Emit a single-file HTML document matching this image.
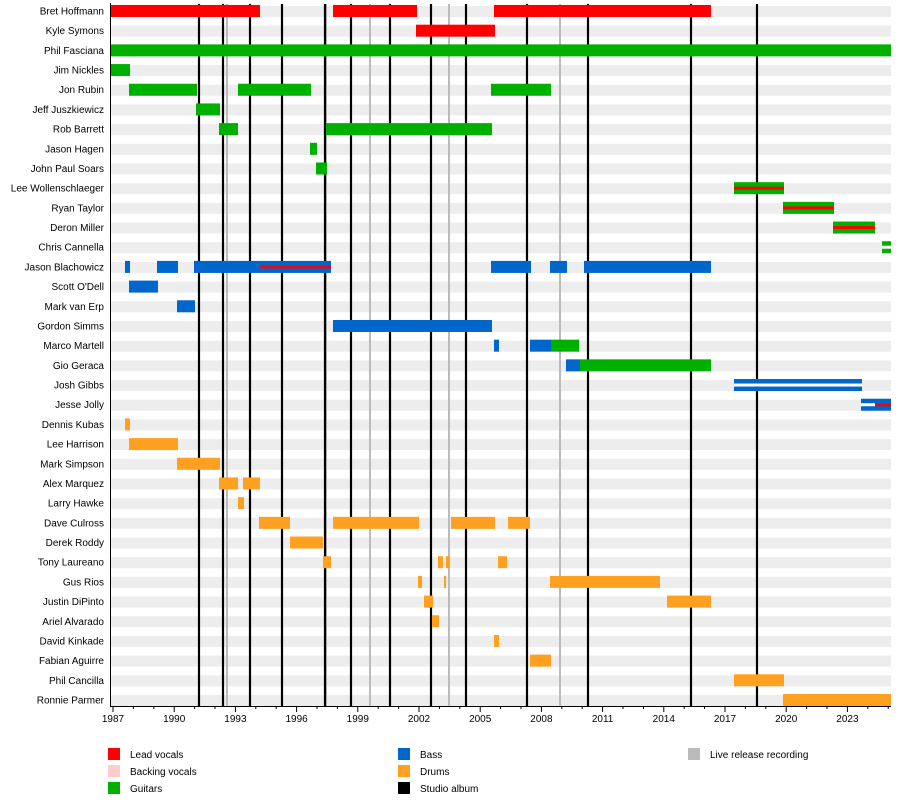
<!DOCTYPE html>
<html><head><meta charset="utf-8"><style>
body{margin:0;background:#fff;}
svg{display:block;font-family:"Liberation Sans",sans-serif;font-size:10px;}
</style></head><body>
<svg width="900" height="805" viewBox="0 0 900 805" xmlns="http://www.w3.org/2000/svg">
<g id="bg" fill="#ededed"></g>
<g id="lines"></g>
<g id="bars"></g>
<g id="names" text-anchor="end" fill="#000"></g>
<line x1="110.5" y1="3" x2="110.5" y2="707" stroke="#000"/>
<line x1="110" y1="706.5" x2="891" y2="706.5" stroke="#000"/>
<g id="ticks"></g>
<g font-size="10">
<rect x="108" y="748" width="12" height="12" fill="#ff0000"/><text x="130" y="758">Lead vocals</text>
<rect x="108" y="765" width="12" height="12" fill="#ffcccc"/><text x="130" y="775">Backing vocals</text>
<rect x="108" y="782" width="12" height="12" fill="#00b000"/><text x="130" y="792">Guitars</text>
<rect x="398" y="748" width="12" height="12" fill="#0066cc"/><text x="420" y="758">Bass</text>
<rect x="398" y="765" width="12" height="12" fill="#ffa020"/><text x="420" y="775">Drums</text>
<rect x="398" y="782" width="12" height="12" fill="#000"/><text x="420" y="792">Studio album</text>
<rect x="688" y="748" width="12" height="12" fill="#bbbbbb"/><text x="710" y="758">Live release recording</text>
</g>
</svg>
<script>
const ns="http://www.w3.org/2000/svg";
function el(p,t,a,txt){const e=document.createElementNS(ns,t);for(const k in a)e.setAttribute(k,a[k]);if(txt)e.textContent=txt;document.getElementById(p).appendChild(e);}
const R="#ff0000",G="#00b000",B="#0066cc",O="#ffa020";
const rows=[
["Bret Hoffmann",[[110,260,R],[333,417,R],[494,711,R]]],
["Kyle Symons",[[416,495,R]]],
["Phil Fasciana",[[110,891,G]]],
["Jim Nickles",[[110,130,G]]],
["Jon Rubin",[[129,197,G],[238,311,G],[491,551,G]]],
["Jeff Juszkiewicz",[[196,220,G]]],
["Rob Barrett",[[219,238,G],[326,492,G]]],
["Jason Hagen",[[310,317,G]]],
["John Paul Soars",[[316,327,G]]],
["Lee Wollenschlaeger",[[734,784,G,R]]],
["Ryan Taylor",[[783,834,G,R]]],
["Deron Miller",[[833,875,G,R]]],
["Chris Cannella",[[882,891,G,"#fff"]]],
["Jason Blachowicz",[[125,130,B],[157,178,B],[194,260,B],[260,331,B,R],[491,531,B],[550,567,B],[584,711,B]]],
["Scott O'Dell",[[129,158,B]]],
["Mark van Erp",[[177,195,B]]],
["Gordon Simms",[[333,492,B]]],
["Marco Martell",[[494,499,B],[530,551,B],[551,579,G]]],
["Gio Geraca",[[566,580,B],[580,711,G]]],
["Josh Gibbs",[[734,862,B,"#fff"]]],
["Jesse Jolly",[[861,875,B,"#fff"],[875,891,B,R]]],
["Dennis Kubas",[[125,130,O]]],
["Lee Harrison",[[129,178,O]]],
["Mark Simpson",[[177,220,O]]],
["Alex Marquez",[[219,238,O],[243,260,O]]],
["Larry Hawke",[[238,244,O]]],
["Dave Culross",[[259,290,O],[333,419,O],[451,495,O],[508,530,O]]],
["Derek Roddy",[[290,323,O]]],
["Tony Laureano",[[323,331,O],[438,443,O],[446,450,O],[498,507,O]]],
["Gus Rios",[[418,422,O],[444,446,O],[550,660,O]]],
["Justin DiPinto",[[424,433,O],[667,711,O]]],
["Ariel Alvarado",[[432,439,O]]],
["David Kinkade",[[494,499,O]]],
["Fabian Aguirre",[[530,551,O]]],
["Phil Cancilla",[[734,784,O]]],
["Ronnie Parmer",[[783,891,O]]]];
rows.forEach((r,i)=>{const c=11+19.686*i;
el("bg","rect",{x:110,y:c-5,width:781,height:11});
el("names","text",{x:104,y:c+3.5},r[0]);
r[1].forEach(b=>{el("bars","rect",{x:b[0],y:c-6,width:b[1]-b[0],height:12,fill:b[2]});
if(b[3])el("bars","rect",{x:b[0],y:c-1.5,width:b[1]-b[0],height:3,fill:b[3]});});});
[227,326,370,449,560].forEach(x=>el("lines","line",{x1:x,y1:4,x2:x,y2:706,stroke:"#bbb","stroke-width":2}));
[199,223,250,282,325,351,390,431,466,527,588,691,757].forEach(x=>el("lines","line",{x1:x,y1:4,x2:x,y2:706,stroke:"#000","stroke-width":2.2}));
for(let y=1987;y<=2025;y++){const x=113+20.4*(y-1987);
el("ticks","line",{x1:x,y1:706,x2:x,y2:(y-1987)%3==0?712:709,stroke:"#000"});
if((y-1987)%3==0)el("ticks","text",{x:x,y:722,"text-anchor":"middle"},String(y));}
</script>
</body></html>
